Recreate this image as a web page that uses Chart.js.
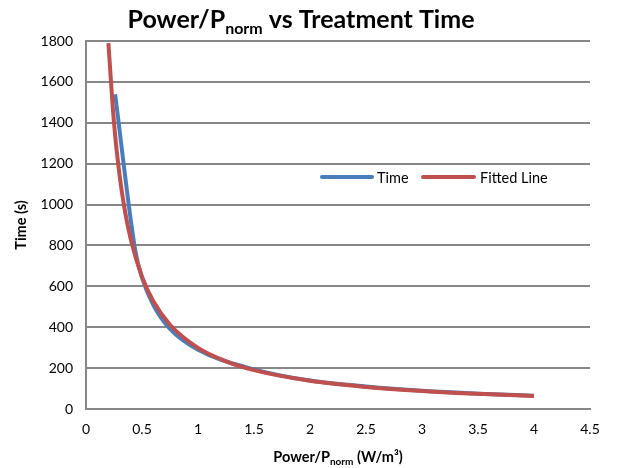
<!DOCTYPE html>
<html>
<head>
<meta charset="utf-8">
<script src="https://cdn.jsdelivr.net/npm/chart.js@4"></script>
<style>
    html, body { margin: 0; padding: 0; background: #fff; }
    #wrap { width: 621px; height: 468px; }
</style>
</head>
<body>
<div id="wrap"><canvas id="chartCanvas" width="621" height="468"></canvas></div>
<script>
// datos
const timeX = [0.26, 0.44, 0.5, 0.6, 0.75, 1, 1.5, 2, 2.5, 3, 3.5, 4];
const timeY = [1540, 775, 642, 510, 392, 290, 194, 139, 110, 89, 75, 65];

const fitX = [0.2, 0.25, 0.3, 0.35, 0.4, 0.5, 0.6, 0.75, 1, 1.25, 1.5, 2, 2.5, 3, 3.5, 4];
const fitY = [1790, 1400, 1142, 962, 829, 647, 528, 412, 299, 233, 190, 138, 108, 88, 74, 64];

const xTicks = [0, 0.5, 1, 1.5, 2, 2.5, 3, 3.5, 4, 4.5];
const yTicks = [0, 200, 400, 600, 800, 1000, 1200, 1400, 1600, 1800];

const blue = "#4a7ebb";
const red = "#c0504d";
const gridColor = "#878787";
const FONT = "Lato, 'Open Sans', sans-serif";

function toPoints(xs, ys) {
    return xs.map((x, i) => ({ x: x, y: ys[i] }));
}

// texto con subindices: [{t, sub}]
function drawRich(ctx, parts, cx, baseline, size, subSize, subDrop) {
    let total = 0;
    parts.forEach(p => {
        ctx.font = "bold " + (p.sub ? subSize : size) + "px " + FONT;
        p.w = ctx.measureText(p.t).width;
        total += p.w;
    });
    let x = cx - total / 2;
    ctx.textAlign = "left";
    ctx.textBaseline = "alphabetic";
    parts.forEach(p => {
        ctx.font = "bold " + (p.sub ? subSize : size) + "px " + FONT;
        ctx.fillText(p.t, x, baseline + (p.sub ? subDrop : 0));
        x += p.w;
    });
}

const extrasPlugin = {
    id: "extras",
    afterDraw(chart) {
        const ctx = chart.ctx;
        const area = chart.chartArea;
        ctx.save();
        ctx.fillStyle = "#000";

        // titulo
        drawRich(ctx, [
            { t: "Power/P" }, { t: "norm", sub: true }, { t: " vs Treatment Time" }
        ], 301, 28, 25, 16, 6);

        // titulo eje x
        drawRich(ctx, [
            { t: "Power/P" }, { t: "norm", sub: true }, { t: " (W/m\u00b3)" }
        ], (area.left + area.right) / 2, 462, 14.5, 10, 3);

        // leyenda
        const ly = 177;
        ctx.lineCap = "round";
        ctx.lineWidth = 4;
        ctx.strokeStyle = blue;
        ctx.beginPath(); ctx.moveTo(322, ly); ctx.lineTo(372, ly); ctx.stroke();
        ctx.strokeStyle = red;
        ctx.beginPath(); ctx.moveTo(423, ly); ctx.lineTo(474, ly); ctx.stroke();
        ctx.font = "14.5px " + FONT;
        ctx.textAlign = "left";
        ctx.textBaseline = "middle";
        ctx.fillText("Time", 377, ly + 1);
        ctx.fillText("Fitted Line", 480, ly + 1);
        ctx.restore();
    }
};

const chart = new Chart(document.getElementById("chartCanvas").getContext("2d"), {
    type: "scatter",
    data: {
        datasets: [{
            label: "Time",
            data: toPoints(timeX, timeY),
            showLine: true,
            borderColor: blue,
            backgroundColor: blue,
            borderWidth: 4,
            pointRadius: 0,
            cubicInterpolationMode: "monotone",
            order: 2
        }, {
            label: "Fitted Line",
            data: toPoints(fitX, fitY),
            showLine: true,
            borderColor: red,
            backgroundColor: red,
            borderWidth: 4,
            pointRadius: 0,
            cubicInterpolationMode: "monotone",
            order: 1
        }]
    },
    options: {
        responsive: false,
        animation: false,
        layout: { padding: { left: 0, right: 31, top: 41, bottom: 0 } },
        plugins: {
            legend: { display: false },
            tooltip: { enabled: false }
        },
        scales: {
            x: {
                type: "linear",
                min: 0,
                max: 4.5,
                afterBuildTicks: s => { s.ticks = xTicks.map(v => ({ value: v })); },
                afterFit: s => { s.height = 59; },
                grid: { display: false, drawTicks: false },
                border: { display: true, color: gridColor, width: 2 },
                ticks: {
                    padding: 12,
                    color: "#000",
                    font: { family: FONT, size: 14 },
                    callback: v => String(v)
                }
            },
            y: {
                min: 0,
                max: 1800,
                afterBuildTicks: s => { s.ticks = yTicks.map(v => ({ value: v })); },
                afterFit: s => { s.width = 86; },
                grid: { color: gridColor, lineWidth: 2, drawTicks: false },
                border: { display: true, color: gridColor, width: 2 },
                ticks: {
                    padding: 13,
                    color: "#000",
                    font: { family: FONT, size: 14 },
                    callback: v => String(v)
                },
                title: {
                    display: true,
                    text: "Time (s)",
                    color: "#000",
                    font: { family: FONT, size: 14.5, weight: "bold" },
                    padding: { top: 13, bottom: 0 }
                }
            }
        }
    },
    plugins: [extrasPlugin]
});
</script>
</body>
</html>
